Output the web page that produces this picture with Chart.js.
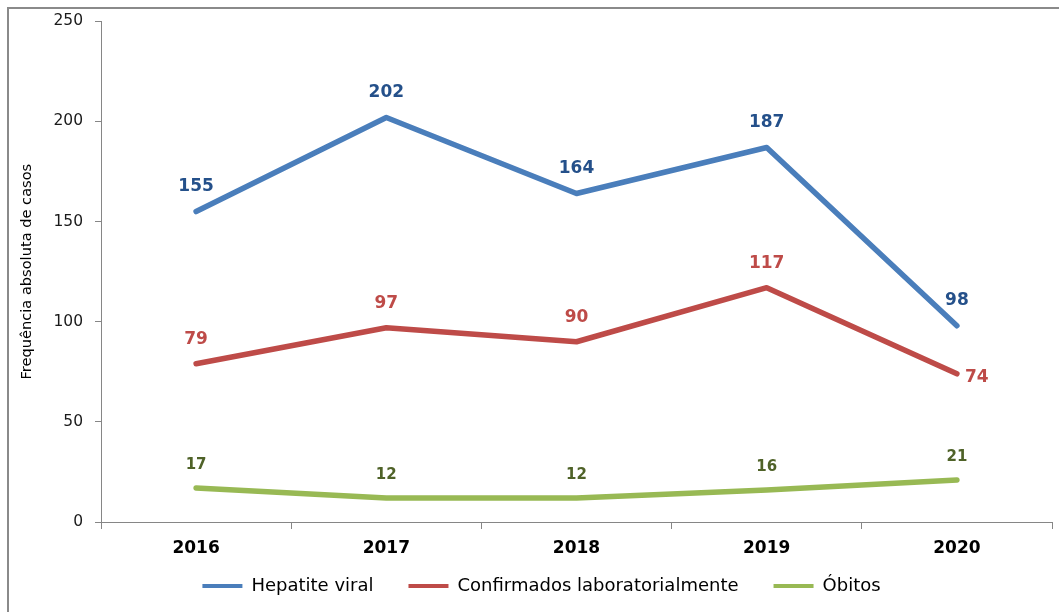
<!DOCTYPE html>
<html><head><meta charset="utf-8">
<script src="https://cdn.jsdelivr.net/npm/chart.js@4.4.1/dist/chart.umd.min.js"></script>
<style>
html,body{margin:0;padding:0;background:#fff;overflow:hidden;}
#wrap{position:relative;width:1059px;height:612px;}
#frame{position:absolute;left:7px;top:7px;width:1100px;height:700px;border-left:2px solid #8a8a8a;border-top:2px solid #8a8a8a;}
canvas{position:absolute;left:0;top:0;}
</style></head><body>
<div id="wrap"><div id="frame"></div><canvas id="c" width="1059" height="612"></canvas></div>
<script>
const categories = ['2016', '2017', '2018', '2019', '2020'];
const hepatiteViral = [155, 202, 164, 187, 98];
const confirmados = [79, 97, 90, 117, 74];
const obitos = [17, 12, 12, 16, 21];
const yTickValues = [0, 50, 100, 150, 200, 250];
const seriesNames = ['Hepatite viral', 'Confirmados laboratorialmente', 'Óbitos'];
const yTitle = 'Frequência absoluta de casos';

const valueLabels = {
  id: 'valueLabels',
  afterDatasetsDraw(chart, args, opts) {
    const ctx = chart.ctx;
    chart.data.datasets.forEach((ds, di) => {
      const meta = chart.getDatasetMeta(di);
      const st = opts.styles[di];
      meta.data.forEach((pt, i) => {
        const v = ds.data[i];
        ctx.save();
        ctx.font = st.font;
        ctx.fillStyle = st.color;
        ctx.textBaseline = 'middle';
        const isRight = opts.rightOf.some(r => r[0] === di && r[1] === i);
        if (isRight) {
          ctx.textAlign = 'left';
          ctx.fillText(String(v), pt.x + opts.rightDx, pt.y + opts.rightDy);
        } else {
          ctx.textAlign = 'center';
          ctx.fillText(String(v), pt.x, pt.y - st.offset);
        }
        ctx.restore();
      });
    });
  }
};

// nudges the legend box to its place under the axis labels
const legendPlacer = {
  id: 'legendPlacer',
  afterLayout(chart, args, opts) {
    const lg = chart.legend;
    if (!lg) return;
    lg.top += opts.dy; lg.bottom += opts.dy;
    lg.left += opts.dx; lg.right += opts.dx;
  }
};

const axisColor = '#868686';
const lineDefaults = { borderWidth: 5.5, tension: 0, pointRadius: 0, pointHoverRadius: 0, borderCapStyle: 'round', borderJoinStyle: 'round', fill: false };

new Chart(document.getElementById('c'), {
  type: 'line',
  data: {
    labels: categories,
    datasets: [
      Object.assign({ label: seriesNames[0], data: hepatiteViral, borderColor: '#4a7ebb', backgroundColor: '#4a7ebb' }, lineDefaults),
      Object.assign({ label: seriesNames[1], data: confirmados, borderColor: '#be4b48', backgroundColor: '#be4b48' }, lineDefaults),
      Object.assign({ label: seriesNames[2], data: obitos, borderColor: '#98b954', backgroundColor: '#98b954' }, lineDefaults)
    ]
  },
  options: {
    responsive: false,
    animation: false,
    devicePixelRatio: 1,
    layout: { padding: { left: 8, top: 21, right: 7, bottom: 0 } },
    scales: {
      x: {
        offset: true,
        grid: { display: true, offset: true, drawOnChartArea: false, drawTicks: true, tickLength: 7, color: axisColor, lineWidth: 1 },
        border: { display: true, color: axisColor, width: 1 },
        ticks: { color: '#000', font: { family: 'DejaVu Sans', size: 17, weight: 'bold' }, padding: 9, maxRotation: 0, autoSkip: false },
        afterFit(scale) { scale.height = 35; }
      },
      y: {
        min: 0, max: 250,
        afterBuildTicks(scale) { scale.ticks = yTickValues.map(v => ({ value: v })); },
        grid: { display: true, drawOnChartArea: false, drawTicks: true, tickLength: 6, color: axisColor, lineWidth: 1 },
        border: { display: true, color: axisColor, width: 1 },
        ticks: { color: '#1a1a1a', font: { family: 'DejaVu Sans', size: 15.5 }, padding: 12 },
        title: { display: true, text: yTitle, color: '#000', font: { family: 'DejaVu Sans', size: 14.6 }, padding: { top: 10.5, bottom: 0 } },
        afterFit(scale) { scale.width = 93; }
      }
    },
    plugins: {
      legend: {
        position: 'bottom',
        maxHeight: 55,
        labels: {
          usePointStyle: true, pointStyle: 'line', pointStyleWidth: 40,
          color: '#000', font: { family: 'DejaVu Sans', size: 18 }, padding: 35,
          generateLabels(chart) {
            const items = Chart.defaults.plugins.legend.labels.generateLabels(chart);
            items.forEach(it => { it.lineWidth = 4; });
            return items;
          }
        }
      },
      legendPlacer: { dx: 11.5, dy: -15 },
      tooltip: { enabled: false },
      valueLabels: {
        styles: [
          { font: 'bold 17px "DejaVu Sans"', color: '#24508a', offset: 25 },
          { font: 'bold 17px "DejaVu Sans"', color: '#be4b48', offset: 24 },
          { font: 'bold 15px "DejaVu Sans"', color: '#4f6228', offset: 23 }
        ],
        rightOf: [[1, 4]],
        rightDx: 8,
        rightDy: 4
      }
    }
  },
  plugins: [valueLabels, legendPlacer]
});
</script>
</body></html>
